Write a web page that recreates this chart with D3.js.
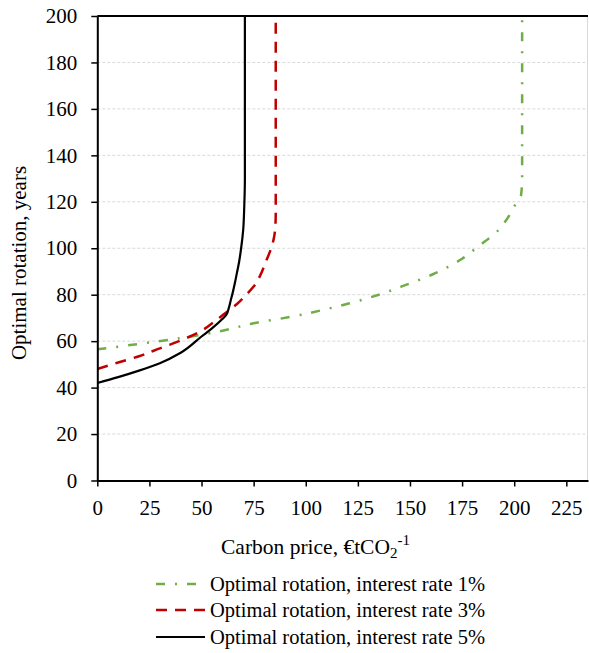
<!DOCTYPE html>
<html>
<head>
<meta charset="utf-8">
<script src="https://cdn.jsdelivr.net/npm/d3@7"></script>
<style>
  html, body { margin: 0; padding: 0; background: #fff; }
  svg { display: block; font-family: "Liberation Serif", "Times New Roman", serif; }
</style>
</head>
<body>
<svg id="chart" width="589" height="653"></svg>
<script>
// ---- Data ----
const xTicks = [0, 25, 50, 75, 100, 125, 150, 175, 200, 225];
const yTicks = [0, 20, 40, 60, 80, 100, 120, 140, 160, 180, 200];

const rate1Price = [0, 20, 40, 60, 75, 93, 110, 121, 135, 148, 161, 170, 175, 181, 186, 190, 195.6, 200.4, 203.3, 203.8, 203.8];
const rate1Rot   = [56.5, 58.8, 61.3, 64.5, 67.7, 70.5, 73.8, 76.3, 80, 84.2, 88.8, 92.8, 95.5, 99.5, 103, 105.7, 111.4, 118.6, 123, 130, 200];

const rate3Price = [0, 10, 20, 30, 40, 50, 57, 62, 67, 72, 75, 78, 81, 83, 84.5, 85.3, 85.6, 85.6];
const rate3Rot   = [48, 50.8, 53.5, 56.9, 60.3, 64.5, 69, 72.5, 76, 80.5, 83.5, 88, 94.5, 99, 103.5, 108, 115, 200];

const rate5Price = [0, 10, 20, 30, 40, 50, 55, 60, 62, 63, 64, 65, 66, 67, 68, 69, 70, 70.5, 70.8, 70.8];
const rate5Rot   = [42, 44.5, 47.3, 50.5, 55, 62, 65.5, 69.5, 71.5, 74, 77.5, 81, 85, 89.5, 94, 100, 108, 118, 130, 200];

const seriesNames = ["Optimal rotation, interest rate 1%", "Optimal rotation, interest rate 3%", "Optimal rotation, interest rate 5%"];

// ---- Styles ----
const styles = [
  { color: "#70ad47", dash: "9,10,2,10", width: 2.5 },
  { color: "#c00000", dash: "11,8", width: 2.5 },
  { color: "#000000", dash: null, width: 2.2 }
];

const series = [
  rate1Price.map((p, i) => ({ x: p, y: rate1Rot[i] })),
  rate3Price.map((p, i) => ({ x: p, y: rate3Rot[i] })),
  rate5Price.map((p, i) => ({ x: p, y: rate5Rot[i] }))
];

const FONT = "'Liberation Serif', 'Times New Roman', serif";
const svg = d3.select("#chart");
const mLeft = 97.3, mRight = 588, mTop = 16, mBottom = 480.5;

const x = d3.scaleLinear().domain([0, 235.4]).range([mLeft, mRight]);
const y = d3.scaleLinear().domain([0, 200]).range([mBottom, mTop]);

// gridlines
svg.append("g").selectAll("line")
  .data(yTicks.filter(d => d > 0 && d < 200))
  .join("line")
  .attr("x1", mLeft).attr("x2", mRight)
  .attr("y1", d => y(d)).attr("y2", d => y(d))
  .attr("stroke", "#d9d9d9").attr("stroke-width", 1)
  .attr("stroke-dasharray", "3,2");

// right border
svg.append("line")
  .attr("x1", mRight - 0.5).attr("x2", mRight - 0.5)
  .attr("y1", mTop).attr("y2", mBottom)
  .attr("stroke", "#d9d9d9").attr("stroke-width", 1);

// top line
svg.append("line")
  .attr("x1", mLeft).attr("x2", mRight)
  .attr("y1", y(200)).attr("y2", y(200))
  .attr("stroke", "#000").attr("stroke-width", 2);

// lines
const line = d3.line().x(d => x(d.x)).y(d => y(d.y)).curve(d3.curveMonotoneY);
svg.append("g").selectAll("path")
  .data(series)
  .join("path")
  .attr("d", line)
  .attr("fill", "none")
  .attr("stroke", (d, i) => styles[i].color)
  .attr("stroke-width", (d, i) => styles[i].width)
  .attr("stroke-dasharray", (d, i) => styles[i].dash);

// x axis
const xAxis = svg.append("g")
  .attr("transform", `translate(0,${mBottom})`)
  .call(d3.axisBottom(x).tickValues(xTicks).tickSize(6).tickSizeOuter(0).tickPadding(14));
xAxis.attr("font-family", FONT);
xAxis.select(".domain").attr("stroke", "#000").attr("stroke-width", 2);
xAxis.selectAll(".tick line").attr("stroke", "#000").attr("stroke-width", 1.5);
xAxis.selectAll(".tick text").attr("font-size", 21).attr("fill", "#000");

// y axis
const yAxis = svg.append("g")
  .attr("transform", `translate(${mLeft},0)`)
  .call(d3.axisLeft(y).tickValues(yTicks).tickSize(6).tickSizeOuter(0).tickPadding(14));
yAxis.attr("font-family", FONT);
yAxis.select(".domain").attr("stroke", "#000").attr("stroke-width", 2);
yAxis.selectAll(".tick line").attr("stroke", "#000").attr("stroke-width", 1.5);
yAxis.selectAll(".tick text").attr("font-size", 21).attr("fill", "#000");

// axis titles
svg.append("text")
  .attr("transform", "translate(26,263) rotate(-90)")
  .attr("text-anchor", "middle")
  .attr("font-family", FONT)
  .attr("font-size", 21)
  .attr("fill", "#000")
  .text("Optimal rotation, years");

const xt = svg.append("text")
  .attr("x", 221).attr("y", 554)
  .attr("font-family", FONT)
  .attr("font-size", 21.5)
  .attr("fill", "#000");
xt.append("tspan").text("Carbon price, €tCO");
xt.append("tspan").attr("font-size", 15).attr("dy", 4).text("2");
xt.append("tspan").attr("font-size", 15).attr("dy", -13).text("-1");

// legend
const legendY = [584, 610, 637];
const lg = svg.append("g").selectAll("g")
  .data(seriesNames)
  .join("g")
  .attr("transform", (d, i) => `translate(0,${legendY[i]})`);
lg.append("line")
  .attr("x1", 156).attr("x2", 205).attr("y1", 0).attr("y2", 0)
  .attr("stroke", (d, i) => styles[i].color)
  .attr("stroke-width", (d, i) => styles[i].width)
  .attr("stroke-dasharray", (d, i) => styles[i].dash);
lg.append("text")
  .attr("x", 210).attr("y", 7)
  .attr("font-family", FONT)
  .attr("font-size", 20.5)
  .attr("fill", "#000")
  .text(d => d);
</script>
</body>
</html>
